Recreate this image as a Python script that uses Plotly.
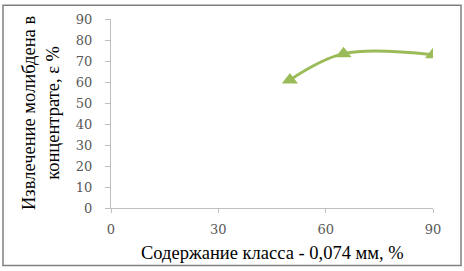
import plotly.graph_objects as go

x_vals = [50, 65, 90]
y_vals = [61, 73.5, 73]
x_ticks = [0, 30, 60, 90]
y_ticks = [0, 10, 20, 30, 40, 50, 60, 70, 80, 90]
x_title = "Содержание класса - 0,074 мм, %"
y_title = "Извлечение молибдена в<br>концентрате, ε %"

W, H = 464, 271
L, R, T, B = 111, 31, 17, 63
pw, ph = W - L - R, H - T - B

def px(xp):
    return (xp - L) / pw

def py(yp):
    return (H - B - yp) / ph

fig = go.Figure()
fig.add_trace(go.Scatter(
    x=x_vals, y=y_vals, mode="lines+markers",
    line=dict(color="#9BBB59", width=3, shape="spline", smoothing=1.0),
    marker=dict(symbol="triangle-up", size=14, color="#9BBB59"),
    showlegend=False, hoverinfo="skip",
))

font_family = "Times New Roman"
tick_family = "DejaVu Serif"
fig.update_layout(
    width=W, height=H,
    margin=dict(l=L, r=R, t=T, b=B),
    paper_bgcolor="white", plot_bgcolor="white",
    font=dict(family=font_family, color="#000000"),
    xaxis=dict(
        range=[0, 90], tickvals=x_ticks, showgrid=False, zeroline=False,
        showline=True, linecolor="#BFBFBF", linewidth=1,
        ticks="outside", ticklen=4, tickcolor="#BFBFBF",
        tickfont=dict(size=13, color="#595959", family=tick_family),
        ticklabelstandoff=5,
    ),
    yaxis=dict(
        range=[0, 90], tickvals=y_ticks, showgrid=False, zeroline=False,
        showline=True, linecolor="#BFBFBF", linewidth=1,
        ticks="outside", ticklen=5, tickcolor="#BFBFBF",
        tickfont=dict(size=13, color="#595959", family=tick_family),
        ticklabelstandoff=10,
    ),
    annotations=[
        dict(text=x_title, xref="paper", yref="paper", x=px(272), y=py(253),
             showarrow=False, xanchor="center", yanchor="middle",
             font=dict(size=18.5, family=font_family, color="#000000")),
        dict(text=y_title, xref="paper", yref="paper", x=px(41), y=py(112),
             showarrow=False, xanchor="center", yanchor="middle", textangle=-90,
             font=dict(size=18.5, family=font_family, color="#000000")),
    ],
)

fig.add_shape(type="rect", xref="paper", yref="paper",
              x0=px(3), x1=px(461), y0=py(266), y1=py(3),
              line=dict(color="#7F7F7F", width=1.5), fillcolor="rgba(0,0,0,0)")

fig.write_html("out.html",
               config={"displayModeBar": False},
               post_script="document.body.style.margin='0';document.body.style.overflow='hidden';")
